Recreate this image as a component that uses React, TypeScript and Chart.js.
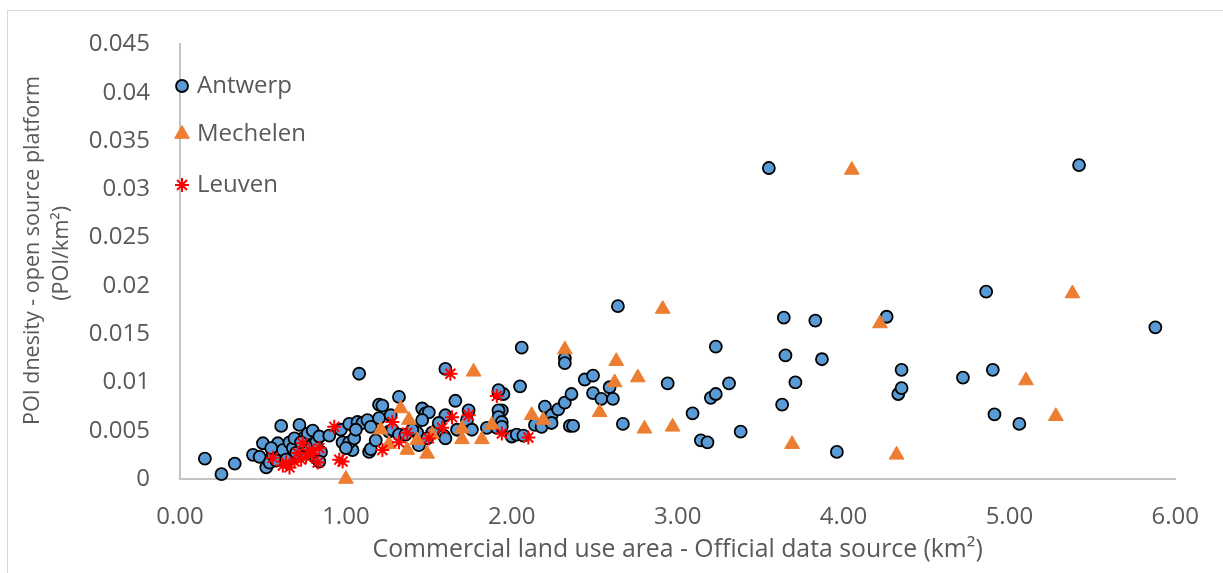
import React, { useEffect, useRef } from "react";
import { Chart, registerables } from "chart.js";
import { drawPoint } from "chart.js/helpers";

Chart.register(...registerables);

const seriesNames = ["Antwerp", "Mechelen", "Leuven"];

const antwerp: number[][] = [
  [0.15, 0.0021], [0.25, 0.0005], [0.33, 0.0016], [0.44, 0.0025], [0.48, 0.0023], [0.5, 0.0037],
  [0.52, 0.0012], [0.54, 0.0017], [0.56, 0.0025], [0.59, 0.0037], [0.61, 0.0055], [0.62, 0.003],
  [0.66, 0.0038], [0.68, 0.0032], [0.72, 0.0056], [0.74, 0.0042], [0.77, 0.0047], [0.8, 0.005],
  [0.82, 0.0038], [0.82, 0.0022], [0.85, 0.0028], [0.84, 0.0044], [0.7, 0.0027], [0.58, 0.0019],
  [0.64, 0.002], [0.76, 0.0034], [0.97, 0.0051], [0.98, 0.0038], [0.9, 0.0045],
  [0.55, 0.0032], [0.69, 0.0042], [0.73, 0.0038], [0.84, 0.0018],
  [1.02, 0.0057], [1.07, 0.0059], [1.1, 0.0058], [1.13, 0.0061], [1.08, 0.0109], [1.04, 0.003],
  [1.02, 0.0038], [1.05, 0.0042], [1.14, 0.0028], [1.15, 0.0031], [1.18, 0.004], [1.2, 0.0063],
  [1.2, 0.0077], [1.22, 0.0076], [1.26, 0.0049], [1.28, 0.0051], [1.32, 0.0085], [1.32, 0.0046],
  [1.36, 0.0046], [1.43, 0.0048], [1.44, 0.0035], [1.46, 0.0073], [1.48, 0.0068], [1.5, 0.0069],
  [1.52, 0.0048], [1.55, 0.0051], [1.59, 0.0045], [1.6, 0.0114], [1.6, 0.0066], [1.6, 0.0042],
  [1.66, 0.0081], [1.67, 0.0051], [1.73, 0.0061], [1.74, 0.0071], [1.85, 0.0053], [1.91, 0.0053],
  [1.92, 0.0089], [1.95, 0.0088], [1.92, 0.0092], [1.94, 0.0071], [1.92, 0.0071], [1.92, 0.0064],
  [1.94, 0.0059], [1.94, 0.0054],
  [1.0, 0.0032], [1.06, 0.0051], [1.15, 0.0054], [1.27, 0.0066], [1.4, 0.0051], [1.46, 0.0061],
  [1.49, 0.0042], [1.56, 0.0058], [1.76, 0.0051],
  [2.0, 0.0044], [2.03, 0.0046], [2.07, 0.0045], [2.05, 0.0096], [2.06, 0.0136], [2.14, 0.0056],
  [2.18, 0.0054], [2.2, 0.0075], [2.24, 0.0066], [2.24, 0.0058], [2.28, 0.0072], [2.32, 0.0079],
  [2.32, 0.0125], [2.32, 0.012], [2.35, 0.0055], [2.37, 0.0055], [2.36, 0.0088], [2.44, 0.0103],
  [2.49, 0.0107], [2.49, 0.0089], [2.54, 0.0083], [2.59, 0.0095], [2.61, 0.0083], [2.64, 0.0179],
  [2.67, 0.0057], [2.94, 0.0099],
  [3.09, 0.0068], [3.14, 0.004], [3.18, 0.0038], [3.2, 0.0084], [3.23, 0.0088], [3.23, 0.0137],
  [3.31, 0.0099], [3.38, 0.0049], [3.55, 0.0322], [3.63, 0.0077], [3.64, 0.0167], [3.65, 0.0128],
  [3.71, 0.01], [3.83, 0.0164], [3.87, 0.0124], [3.96, 0.0028], [4.26, 0.0168], [4.33, 0.0088],
  [4.35, 0.0094], [4.35, 0.0113], [4.72, 0.0105], [4.86, 0.0194], [4.9, 0.0113], [4.91, 0.0067],
  [5.06, 0.0057], [5.42, 0.0325], [5.88, 0.0157],
];

const mechelen: number[][] = [
  [1.0, 0.0], [1.21, 0.0051], [1.26, 0.0036], [1.33, 0.0073], [1.37, 0.003], [1.38, 0.0061],
  [1.43, 0.004], [1.49, 0.0026], [1.52, 0.0046], [1.7, 0.0041], [1.7, 0.0052], [1.77, 0.0111],
  [1.82, 0.0041], [1.88, 0.0056], [2.12, 0.0066], [2.19, 0.0061], [2.32, 0.0134],
  [2.53, 0.0069], [2.62, 0.01], [2.63, 0.0122], [2.76, 0.0105], [2.8, 0.0052], [2.91, 0.0176],
  [2.97, 0.0054], [3.69, 0.0036], [4.05, 0.032], [4.22, 0.0161], [4.32, 0.0025], [5.1, 0.0102],
  [5.28, 0.0065], [5.38, 0.0192],
];

const leuven: number[][] = [
  [0.56, 0.0022], [0.62, 0.0014], [0.64, 0.0017], [0.66, 0.0012], [0.69, 0.0018], [0.71, 0.0027],
  [0.73, 0.002], [0.74, 0.0037], [0.76, 0.0023], [0.78, 0.003], [0.8, 0.0026],
  [0.84, 0.0032], [0.83, 0.0017], [0.93, 0.0054], [0.96, 0.002], [0.98, 0.0018],
  [1.22, 0.003], [1.28, 0.0059], [1.32, 0.0038], [1.37, 0.0048], [1.5, 0.0042],
  [1.58, 0.0053], [1.64, 0.0064], [1.63, 0.0109], [1.74, 0.0066], [1.91, 0.0086], [1.94, 0.0047],
  [2.1, 0.0043],
];

const xTickLabels = ["0.00", "1.00", "2.00", "3.00", "4.00", "5.00", "6.00"];
const yTickLabels = ["0", "0.005", "0.01", "0.015", "0.02", "0.025", "0.03", "0.035", "0.04", "0.045"];

const xTitle = "Commercial land use area - Official data source (km\u00b2)";
const yTitle = [
  "\u00a0\u00a0\u00a0\u00a0POI dnesity - open source platform",
  "\u00a0\u00a0\u00a0(POI/km\u00b2)",
];

const FONT = "'Open Sans', 'Noto Sans', sans-serif";
const TEXT = "#595959";

const toPts = (arr: number[][]) => arr.map(([x, y]) => ({ x, y }));

const framePlugin = {
  id: "frame",
  beforeDraw(chart: any) {
    const ctx = chart.ctx;
    ctx.save();
    ctx.fillStyle = "#ffffff";
    ctx.fillRect(0, 0, chart.width, chart.height);
    ctx.strokeStyle = "#d9d9d9";
    ctx.lineWidth = 1;
    ctx.strokeRect(7.5, 10.5, chart.width + 10, chart.height + 10);
    ctx.restore();
  },
};

const legendPlugin = {
  id: "innerLegend",
  afterDraw(chart: any) {
    const ctx = chart.ctx;
    const area = chart.chartArea;
    const rows = [86, 134, 185];
    ctx.save();
    chart.data.datasets.forEach((ds: any, i: number) => {
      const x = area.left + 2;
      const y = rows[i];
      ctx.fillStyle = ds.backgroundColor;
      ctx.strokeStyle = ds.borderColor;
      ctx.lineWidth = ds.borderWidth;
      drawPoint(ctx, { pointStyle: ds.pointStyle, radius: ds.pointRadius, borderWidth: ds.borderWidth, rotation: 0 }, x, y);
      ctx.fillStyle = TEXT;
      ctx.font = `24px ${FONT}`;
      ctx.textBaseline = "middle";
      ctx.textAlign = "left";
      ctx.fillText(ds.label, area.left + 17, y);
    });
    ctx.restore();
  },
};

export default function App() {
  const ref = useRef<HTMLCanvasElement | null>(null);

  useEffect(() => {
    if (!ref.current) return;
    const chart = new Chart(ref.current, {
      type: "scatter",
      data: {
        datasets: [
          {
            label: seriesNames[0],
            data: toPts(antwerp),
            pointStyle: "circle",
            pointRadius: 6,
            pointHoverRadius: 6,
            backgroundColor: "#5b9bd5",
            borderColor: "#000000",
            borderWidth: 1.8,
            order: 2,
            clip: false as any,
          },
          {
            label: seriesNames[1],
            data: toPts(mechelen),
            pointStyle: "triangle",
            pointRadius: 8.5,
            pointHoverRadius: 8.5,
            backgroundColor: "#ed7d31",
            borderColor: "#ed7d31",
            borderWidth: 1,
            order: 1,
            clip: false as any,
          },
          {
            label: seriesNames[2],
            data: toPts(leuven),
            pointStyle: "star",
            pointRadius: 7,
            pointHoverRadius: 7,
            backgroundColor: "#ff0000",
            borderColor: "#ff0000",
            borderWidth: 2,
            order: 0,
            clip: false as any,
          },
        ],
      },
      options: {
        animation: false,
        responsive: false,
        devicePixelRatio: 1,
        layout: { padding: { left: 0, top: 44, right: 45, bottom: 0 } },
        plugins: {
          legend: { display: false },
          tooltip: { enabled: false },
        },
        scales: {
          x: {
            type: "linear",
            min: 0,
            max: 6,
            grid: { display: false, drawTicks: false },
            border: { display: true, color: "#c4c4c4", width: 2 },
            ticks: {
              stepSize: 1,
              padding: 24,
              color: TEXT,
              font: { family: FONT, size: 24 },
              callback: (v: any) => xTickLabels[Math.round(Number(v))] ?? "",
            },
            title: {
              display: true,
              text: xTitle,
              color: TEXT,
              font: { family: FONT, size: 24.8 },
              padding: { top: 0, bottom: 8 },
            },
            afterFit: (scale: any) => {
              scale.height = 94;
            },
          },
          y: {
            type: "linear",
            min: 0,
            max: 0.045,
            grid: { display: false, drawTicks: false },
            border: { display: true, color: "#c4c4c4", width: 2 },
            ticks: {
              stepSize: 0.005,
              padding: 30,
              color: TEXT,
              font: { family: FONT, size: 24 },
              callback: (v: any) => yTickLabels[Math.round(Number(v) / 0.005)] ?? "",
            },
            title: {
              display: true,
              text: yTitle,
              color: TEXT,
              font: { family: FONT, size: 21.5, lineHeight: 1.35 },
              padding: { top: 18.5, bottom: 0 },
            },
            afterFit: (scale: any) => {
              scale.width = 180;
            },
          },
        },
      },
      plugins: [framePlugin, legendPlugin],
    });
    return () => chart.destroy();
  }, []);

  return (
    <div style={{ position: "fixed", left: 0, top: 0, width: 1223, height: 573, background: "#fff" }}>
      <canvas ref={ref} width={1223} height={573} style={{ display: "block", width: 1223, height: 573 }} />
    </div>
  );
}
